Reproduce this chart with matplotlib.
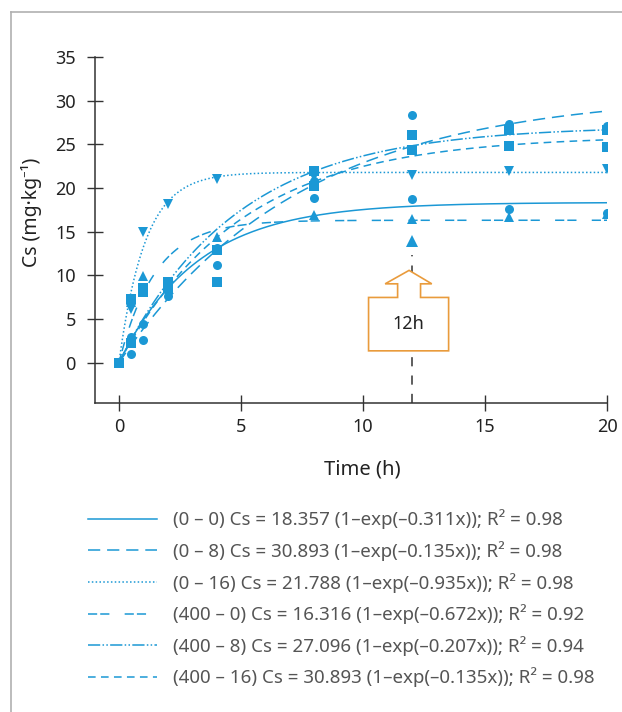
import matplotlib
matplotlib.use("Agg")
import matplotlib.pyplot as plt
import numpy as np
from matplotlib.patches import Polygon
from matplotlib.lines import Line2D

plt.rcParams['font.family'] = ['Noto Sans', 'DejaVu Sans']

# Sampling times (h)
times = [0, 0.5, 1, 2, 4, 8, 12, 16, 20]

# Measured Cs (mg/kg) for each treatment
cs_0_0 = [0, 3.0, 4.4, 8.2, 13.1, 18.9, 18.8, 17.6, 17.2]
cs_0_8 = [0, 1.0, 2.6, 7.7, 11.2, 20.8, 28.4, 27.3, 27.1]
cs_0_16 = [0, 6.2, 15.0, 18.2, 21.0, 21.3, 21.5, 22.0, 22.2]
cs_400_0 = [0, 7.0, 9.9, 8.9, 14.4, 16.9, 16.5, 16.7, 17.0]
cs_400_8 = [0, 2.3, 8.6, 9.2, 12.9, 22.0, 26.1, 26.6, 26.6]
cs_400_16 = [0, 7.3, 8.1, 8.6, 9.3, 20.2, 24.4, 24.8, 24.7]

# Extra sample at 12 h
cs_12h_time = [12]
cs_12h_value = [13.9]

# First-order fit parameters Cs = a (1 - exp(-k t))
fit_a = [18.357, 30.893, 21.788, 16.316, 27.096, 26.0]
fit_k = [0.311, 0.135, 0.935, 0.672, 0.207, 0.2]

labels = [
    "(0 – 0) Cs = 18.357 (1–exp(–0.311x)); R² = 0.98",
    "(0 – 8) Cs = 30.893 (1–exp(–0.135x)); R² = 0.98",
    "(0 – 16) Cs = 21.788 (1–exp(–0.935x)); R² = 0.98",
    "(400 – 0) Cs = 16.316 (1–exp(–0.672x)); R² = 0.92",
    "(400 – 8) Cs = 27.096 (1–exp(–0.207x)); R² = 0.94",
    "(400 – 16) Cs = 30.893 (1–exp(–0.135x)); R² = 0.98",
]

series = [cs_0_0, cs_0_8, cs_0_16, cs_400_0, cs_400_8, cs_400_16]
markers = ['o', 'o', 'v', '^', 's', 's']
dashes = [
    None,
    (8, 4.5),
    (1, 1.5),
    (6, 2, 6, 10),
    (8, 1.5, 1, 1.5, 1, 1.5),
    (5, 3.5),
]

blue = '#1b98d5'
orange = '#e99b3c'

fig = plt.figure(figsize=(6.22, 7.12), dpi=100)
ax = fig.add_axes([94.5 / 622, 1 - 403 / 712, (607 - 94.5) / 622, (403 - 57) / 712])

t_fit = np.linspace(0, 20, 400)
handles = []
for vals, a, k, m, d, lab in zip(series, fit_a, fit_k, markers, dashes, labels):
    ln, = ax.plot(t_fit, a * (1 - np.exp(-k * t_fit)), color=blue, lw=1.1, label=lab)
    if d is not None:
        ln.set_dashes(d)
    handles.append(ln)
    ax.plot(times, vals, linestyle='none', marker=m, ms=6.5, color=blue,
            markeredgewidth=0, zorder=3)

ax.plot(cs_12h_time, cs_12h_value, linestyle='none', marker='^', ms=9,
        color=blue, markeredgewidth=0, zorder=3)

# 12 h guide line and callout
ax.plot([12, 12], [-4.6, 12.3], color='#333333', lw=1.1, dashes=(6, 6), zorder=2)
callout = [(10.23, 1.37), (13.51, 1.37), (13.51, 7.48), (12.36, 7.48), (12.36, 9.04),
           (12.82, 9.04), (11.89, 10.58), (10.91, 9.04), (11.42, 9.04), (11.42, 7.48),
           (10.23, 7.48)]
ax.add_patch(Polygon(callout, closed=True, facecolor='white', edgecolor=orange,
                     lw=1.2, zorder=4))
ax.text(11.87, 4.45, "12h", ha='center', va='center', fontsize=13,
        color='#222222', zorder=5)

ax.set_xlim(-1, 20)
ax.set_ylim(-4.6, 35)
ax.set_xticks([0, 5, 10, 15, 20])
ax.set_yticks([0, 5, 10, 15, 20, 25, 30, 35])
for s in ['top', 'right']:
    ax.spines[s].set_visible(False)
for s in ['left', 'bottom']:
    ax.spines[s].set_color('#333333')
    ax.spines[s].set_linewidth(1.1)
ax.tick_params(axis='both', direction='inout', length=11, width=1.0,
               color='#333333', labelsize=13, labelcolor='#222222')
ax.tick_params(axis='y', pad=8)
ax.tick_params(axis='x', pad=5)

fig.text(32 / 622, 1 - 212 / 712, "Cs (mg·kg⁻¹)", rotation=90, ha='center',
         va='center', fontsize=14, color='#222222')
fig.text(362 / 622, 1 - 469 / 712, "Time (h)", ha='center', va='center',
         fontsize=14.5, color='#222222')

leg = fig.legend(handles=handles, loc='upper left',
                 bbox_to_anchor=(80 / 622, 1 - 502 / 712), frameon=False,
                 fontsize=13.5, handlelength=3.7, handletextpad=0.88,
                 labelspacing=0.62, borderaxespad=0)
for t in leg.get_texts():
    t.set_color('#555555')

# Outer frame on the left and top
fig.add_artist(Line2D([11 / 622, 11 / 622], [0, 1 - 12 / 712], transform=fig.transFigure,
                      color='#b0b0b0', lw=1.2))
fig.add_artist(Line2D([11 / 622, 1], [1 - 12 / 712, 1 - 12 / 712], transform=fig.transFigure,
                      color='#b0b0b0', lw=1.2))

fig.savefig("out.png", dpi=100)
